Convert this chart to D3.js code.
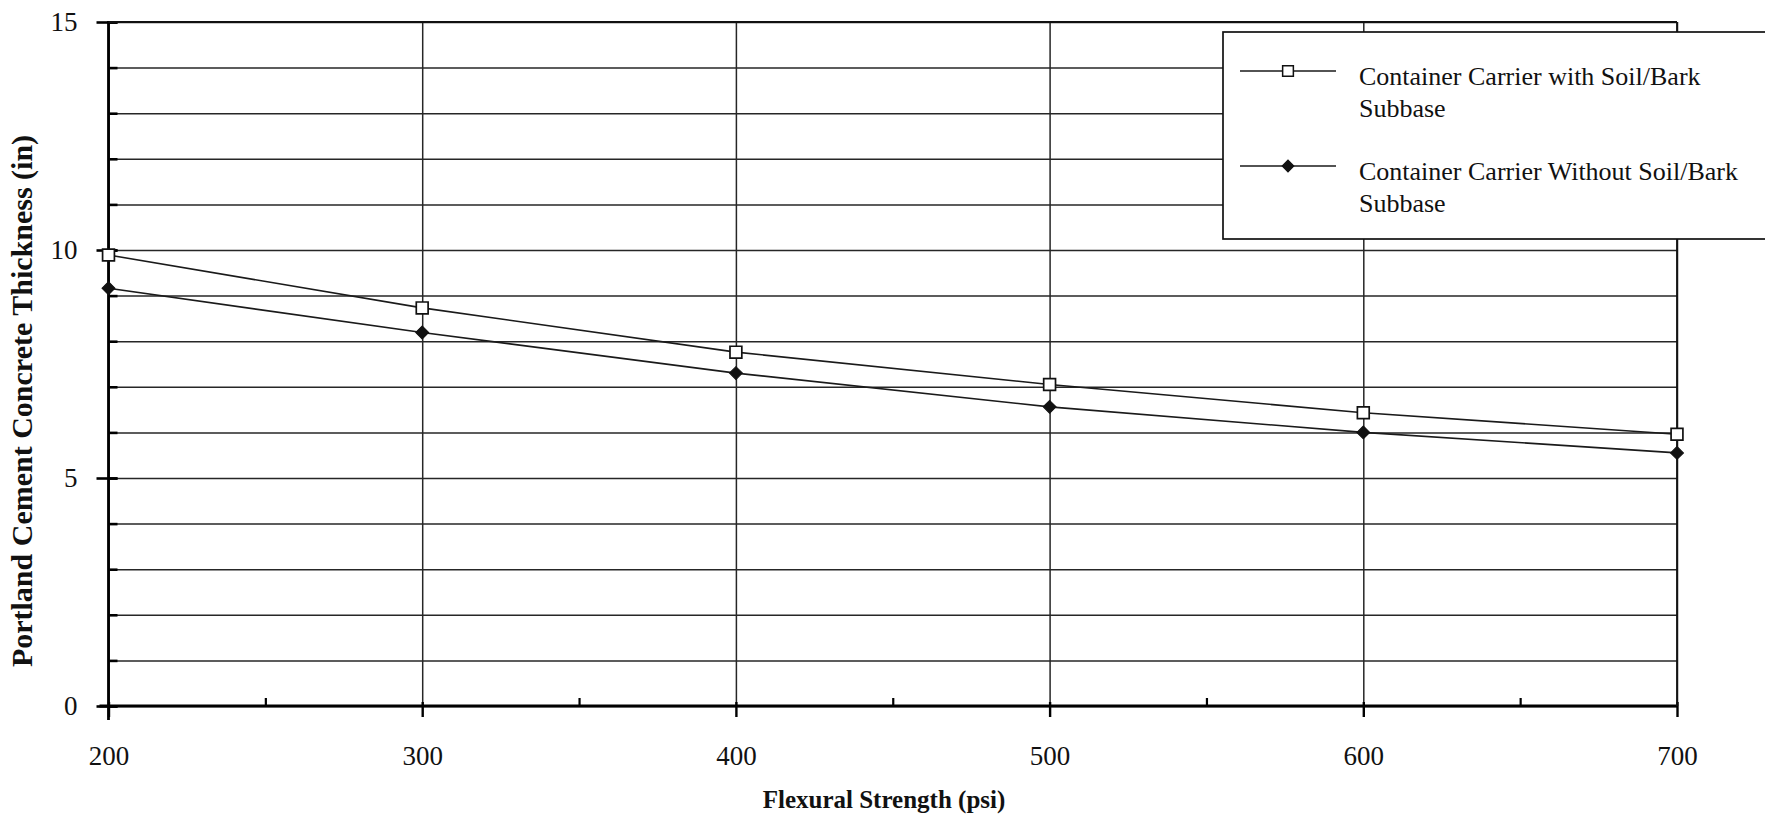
<!DOCTYPE html>
<html>
<head>
<meta charset="utf-8">
<script src="https://cdn.jsdelivr.net/npm/d3@7"></script>
<style>
  html, body { margin: 0; padding: 0; background: #fff; }
  svg { display: block; }
  text { font-family: "Liberation Serif", "Times New Roman", serif; fill: #111; }
</style>
</head>
<body>
<svg id="chart" width="1765" height="817"></svg>
<script>
// ---- data ----
const flexuralStrength = [200, 300, 400, 500, 600, 700];
const withSubbase = [9.89, 8.73, 7.76, 7.05, 6.43, 5.96];
const withoutSubbase = [9.16, 8.19, 7.30, 6.56, 6.00, 5.55];
const xTickValues = [200, 300, 400, 500, 600, 700];
const xMinorTickValues = [250, 350, 450, 550, 650];
const yTickValues = [0, 5, 10, 15];
const yGridValues = [0, 1, 2, 3, 4, 5, 6, 7, 8, 9, 10, 11, 12, 13, 14, 15];
const seriesNames = [
  ["Container Carrier with Soil/Bark", "Subbase"],
  ["Container Carrier Without Soil/Bark", "Subbase"]
];
const xTitle = "Flexural Strength (psi)";
const yTitle = "Portland Cement Concrete Thickness (in)";

(function () {
// ---- layout ----
const svg = d3.select("#chart");
svg.append("rect").attr("width", 1765).attr("height", 817).attr("fill", "#fff");

const pL = 108.5, pR = 1677, pT = 22, pB = 706;
const x = d3.scaleLinear().domain([200, 700]).range([pL, pR]);
const y = d3.scaleLinear().domain([0, 15]).range([pB, pT]);

const gridColor = "#262626";

// horizontal gridlines (every unit)
const hGrid = svg.append("g").attr("transform", `translate(${pL},0)`)
  .call(d3.axisRight(y).tickValues(yGridValues).tickSize(pR - pL).tickFormat(""));
hGrid.select(".domain").remove();
hGrid.selectAll("line").attr("stroke", gridColor).attr("stroke-width", 1.5);

// minor inside ticks on y axis
svg.append("g").attr("transform", `translate(${pL},0)`)
  .call(d3.axisRight(y).tickValues(yGridValues).tickSize(9).tickFormat(""))
  .call(g => g.select(".domain").remove())
  .selectAll("line").attr("stroke", "#000").attr("stroke-width", 2.6);

// vertical gridlines
const vGrid = svg.append("g").attr("transform", `translate(0,${pB})`)
  .call(d3.axisTop(x).tickValues(xTickValues).tickSize(pB - pT).tickFormat(""));
vGrid.select(".domain").remove();
vGrid.selectAll("line").attr("stroke", gridColor).attr("stroke-width", 1.5);

// y axis with major ticks and labels
const yAxis = svg.append("g").attr("transform", `translate(${pL},0)`)
  .call(d3.axisLeft(y).tickValues(yTickValues).tickSize(12).tickPadding(19).tickSizeOuter(0));
yAxis.select(".domain").attr("stroke", "#000").attr("stroke-width", 2.8)
  .attr("d", `M0,${pT - 1}V${pB + 14}`);
yAxis.selectAll(".tick line").attr("stroke", "#000").attr("stroke-width", 2.6).attr("x2", 9).attr("x1", -12);
yAxis.selectAll(".tick text").attr("font-size", 27).attr("font-family", "Liberation Serif").attr("fill", "#111");

// x axis with major ticks and labels
const xAxis = svg.append("g").attr("transform", `translate(0,${pB})`)
  .call(d3.axisBottom(x).tickValues(xTickValues).tickSize(11).tickPadding(29).tickSizeOuter(0));
xAxis.select(".domain").attr("stroke", "#000").attr("stroke-width", 2.8)
  .attr("d", `M${pL - 9},0H${pR}`);
xAxis.selectAll(".tick line").attr("stroke", "#000").attr("stroke-width", 2.4).attr("y1", -4);
xAxis.selectAll(".tick text").attr("font-size", 27).attr("font-family", "Liberation Serif").attr("fill", "#111");

// minor x ticks (upward)
svg.append("g").attr("transform", `translate(0,${pB})`)
  .call(d3.axisTop(x).tickValues(xMinorTickValues).tickSize(8).tickFormat(""))
  .call(g => g.select(".domain").remove())
  .selectAll("line").attr("stroke", "#000").attr("stroke-width", 2.2);

// top border and right border
svg.append("line").attr("x1", pL).attr("x2", pR).attr("y1", y(15)).attr("y2", y(15))
  .attr("stroke", "#111").attr("stroke-width", 1.8);
svg.append("line").attr("x1", x(700)).attr("x2", x(700)).attr("y1", pT).attr("y2", pB)
  .attr("stroke", "#111").attr("stroke-width", 1.8);

// ---- series ----
const line = d3.line().x(d => x(d[0])).y(d => y(d[1]));
const s1 = flexuralStrength.map((v, i) => [v, withSubbase[i]]);
const s2 = flexuralStrength.map((v, i) => [v, withoutSubbase[i]]);

svg.append("path").datum(s1).attr("d", line).attr("fill", "none").attr("stroke", "#1a1a1a").attr("stroke-width", 1.6);
svg.append("path").datum(s2).attr("d", line).attr("fill", "none").attr("stroke", "#1a1a1a").attr("stroke-width", 1.6);

const sq = d3.symbol().type(d3.symbolSquare).size(140);
const dm = d3.symbol().type(d3.symbolSquare).size(84);

svg.append("g").selectAll("path").data(s1).join("path")
  .attr("d", sq).attr("transform", d => `translate(${x(d[0])},${y(d[1])})`)
  .attr("fill", "#fff").attr("stroke", "#111").attr("stroke-width", 1.7);
svg.append("g").selectAll("path").data(s2).join("path")
  .attr("d", dm).attr("transform", d => `translate(${x(d[0])},${y(d[1])}) rotate(45)`)
  .attr("fill", "#111").attr("stroke", "#111").attr("stroke-width", 1);

// ---- axis titles ----
svg.append("text").attr("x", 884).attr("y", 808).attr("text-anchor", "middle")
  .attr("font-size", 25).attr("font-weight", "bold").text(xTitle);
svg.append("text").attr("transform", "translate(32,401) rotate(-90)").attr("text-anchor", "middle")
  .attr("font-size", 30).attr("font-weight", "bold").text(yTitle);

// ---- legend ----
const lg = svg.append("g");
lg.append("rect").attr("x", 1223).attr("y", 32).attr("width", 560).attr("height", 207)
  .attr("fill", "#fff").attr("stroke", "#111").attr("stroke-width", 1.7);
const legendRows = [
  { y: 71, sym: d3.symbol().type(d3.symbolSquare).size(115), rot: 0, fill: "#fff" },
  { y: 166, sym: d3.symbol().type(d3.symbolSquare).size(62), rot: 45, fill: "#111" }
];
legendRows.forEach((r, i) => {
  lg.append("line").attr("x1", 1240).attr("x2", 1336).attr("y1", r.y).attr("y2", r.y)
    .attr("stroke", "#1a1a1a").attr("stroke-width", 1.5);
  lg.append("path").attr("d", r.sym())
    .attr("transform", `translate(1288,${r.y}) rotate(${r.rot})`)
    .attr("fill", r.fill).attr("stroke", "#111").attr("stroke-width", 1.5);
  const t = lg.append("text").attr("x", 1359).attr("y", r.y + 14).attr("font-size", 26);
  t.append("tspan").attr("x", 1359).attr("dy", 0).text(seriesNames[i][0]);
  t.append("tspan").attr("x", 1359).attr("dy", 32).text(seriesNames[i][1]);
});
})();
</script>
</body>
</html>
